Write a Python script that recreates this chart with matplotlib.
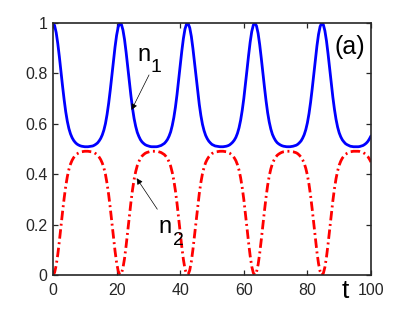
import numpy as np
import matplotlib
matplotlib.use("Agg")
import matplotlib.pyplot as plt

plt.rcParams['font.family'] = ['Liberation Sans', 'DejaVu Sans']

# sample spacing of the time axis
t_step = 0.5

n1 = [
    1.000, 0.990, 0.962, 0.919, 0.866, 0.807, 0.750, 0.696, 0.648, 0.610, 0.581,
    0.560, 0.545, 0.534, 0.526, 0.520, 0.516, 0.513, 0.511, 0.510, 0.509, 0.509,
    0.509, 0.510, 0.511, 0.512, 0.515, 0.519, 0.524, 0.532, 0.542, 0.556,
    0.575, 0.601, 0.637, 0.681, 0.733, 0.789, 0.848, 0.904, 0.951, 0.984,
    0.999, 0.995, 0.972, 0.934, 0.883, 0.825, 0.767, 0.712, 0.662, 0.621,
    0.590, 0.566, 0.550, 0.537, 0.528, 0.522, 0.517, 0.514, 0.512, 0.510,
    0.509, 0.509,
    0.509, 0.509, 0.510, 0.512, 0.514, 0.518, 0.522, 0.529, 0.538, 0.551,
    0.568, 0.593, 0.625, 0.666, 0.716, 0.772, 0.831, 0.888, 0.938, 0.976,
    0.996, 0.998, 0.981, 0.947, 0.899, 0.843, 0.784, 0.728, 0.677, 0.633,
    0.598, 0.573, 0.554, 0.541, 0.531, 0.524, 0.518, 0.515, 0.512, 0.511,
    0.510, 0.509,
    0.509, 0.509, 0.510, 0.511, 0.513, 0.516, 0.521, 0.527, 0.535, 0.546,
    0.562, 0.584, 0.614, 0.653, 0.700, 0.755, 0.813, 0.871, 0.924, 0.966,
    0.992, 1.000, 0.988, 0.959, 0.914, 0.860, 0.801, 0.745, 0.691, 0.644,
    0.607, 0.579, 0.558, 0.544, 0.533, 0.525, 0.520, 0.516, 0.513, 0.511,
    0.510, 0.509,
    0.509, 0.509, 0.510, 0.511, 0.513, 0.515, 0.519, 0.525, 0.532, 0.543,
    0.557, 0.577, 0.604, 0.640, 0.685, 0.738, 0.795, 0.854, 0.909, 0.955,
    0.986, 1.000, 0.994, 0.969, 0.929, 0.877, 0.819, 0.761, 0.706, 0.658,
    0.618, 0.587, 0.564, 0.548, 0.536, 0.528, 0.521, 0.517, 0.514, 0.511,
    0.510, 0.509, 0.509,
    0.509, 0.509, 0.510, 0.512, 0.514, 0.518, 0.523, 0.530, 0.540, 0.552,
]

n2 = [
    0.000, 0.010, 0.038, 0.081, 0.134, 0.193, 0.250, 0.304, 0.352, 0.390, 0.419,
    0.440, 0.455, 0.466, 0.474, 0.480, 0.484, 0.487, 0.489, 0.490, 0.491, 0.491,
    0.491, 0.490, 0.489, 0.488, 0.485, 0.481, 0.476, 0.468, 0.458, 0.444,
    0.425, 0.399, 0.363, 0.319, 0.267, 0.211, 0.152, 0.096, 0.049, 0.016,
    0.001, 0.005, 0.028, 0.066, 0.117, 0.175, 0.233, 0.288, 0.338, 0.379,
    0.410, 0.434, 0.450, 0.463, 0.472, 0.478, 0.483, 0.486, 0.488, 0.490,
    0.491, 0.491,
    0.491, 0.491, 0.490, 0.488, 0.486, 0.482, 0.478, 0.471, 0.462, 0.449,
    0.432, 0.407, 0.375, 0.334, 0.284, 0.228, 0.169, 0.112, 0.062, 0.024,
    0.004, 0.002, 0.019, 0.053, 0.101, 0.157, 0.216, 0.272, 0.323, 0.367,
    0.402, 0.427, 0.446, 0.459, 0.469, 0.476, 0.482, 0.485, 0.488, 0.489,
    0.490, 0.491,
    0.491, 0.491, 0.490, 0.489, 0.487, 0.484, 0.479, 0.473, 0.465, 0.454,
    0.438, 0.416, 0.386, 0.347, 0.300, 0.245, 0.187, 0.129, 0.076, 0.034,
    0.008, 0.000, 0.012, 0.041, 0.086, 0.140, 0.199, 0.255, 0.309, 0.356,
    0.393, 0.421, 0.442, 0.456, 0.467, 0.475, 0.480, 0.484, 0.487, 0.489,
    0.490, 0.491,
    0.491, 0.491, 0.490, 0.489, 0.487, 0.485, 0.481, 0.475, 0.468, 0.457,
    0.443, 0.423, 0.396, 0.360, 0.315, 0.262, 0.205, 0.146, 0.091, 0.045,
    0.014, 0.000, 0.006, 0.031, 0.071, 0.123, 0.181, 0.239, 0.294, 0.342,
    0.382, 0.413, 0.436, 0.452, 0.464, 0.472, 0.479, 0.483, 0.486, 0.489,
    0.490, 0.491, 0.491,
    0.491, 0.491, 0.490, 0.488, 0.486, 0.482, 0.477, 0.470, 0.460, 0.448,
]

t = np.arange(len(n1)) * t_step

x_ticks = [0, 20, 40, 60, 80, 100]
x_ticklabels = ['0', '20', '40', '60', '80', '100']
y_ticks = [0, 0.2, 0.4, 0.6, 0.8, 1]
y_ticklabels = ['0', '0.2', '0.4', '0.6', '0.8', '1']

fig = plt.figure(figsize=(4.09, 3.09), dpi=100)
ax = fig.add_axes([53 / 409, 34 / 309, 318 / 409, 252 / 309])

ax.plot(t, n1, color='#0000ff', lw=2.0, solid_capstyle='round',
        solid_joinstyle='round')
ax.plot(t, n2, color='#ff0000', lw=2.0, linestyle=(0, (3.4, 1.3, 0.7, 1.3)))

ax.set_xlim(0, 100)
ax.set_ylim(0, 1)
ax.set_xticks(x_ticks)
ax.set_xticklabels(x_ticklabels)
ax.set_yticks(y_ticks)
ax.set_yticklabels(y_ticklabels)

ax.tick_params(direction='in', top=True, right=True, length=3.5, width=0.9,
               labelsize=11.5, colors='#262626', pad=4)
ax.tick_params(axis='x', pad=6)
for s in ax.spines.values():
    s.set_color('#262626')
    s.set_linewidth(1.2)

# annotations
arrow = dict(arrowstyle='-|>', color='black', lw=0.5, mutation_scale=9,
             shrinkA=0, shrinkB=0)
ax.annotate('', xy=(24.7, 0.655), xytext=(30.2, 0.794), arrowprops=arrow)
ax.annotate('', xy=(26.3, 0.384), xytext=(32.8, 0.261), arrowprops=arrow)

ax.text(26.4, 0.849, 'n', fontsize=17, ha='left', va='baseline')
ax.text(30.6, 0.806, '1', fontsize=14, ha='left', va='baseline')
ax.text(33.0, 0.167, 'n', fontsize=17, ha='left', va='baseline')
ax.text(37.7, 0.119, '2', fontsize=14, ha='left', va='baseline')

ax.text(98.3, 0.905, '(a)', fontsize=18, ha='right', va='center')
ax.text(92.0, -0.063, 't', fontsize=19, ha='center', va='center', clip_on=False)

fig.savefig('out.png', dpi=100)
